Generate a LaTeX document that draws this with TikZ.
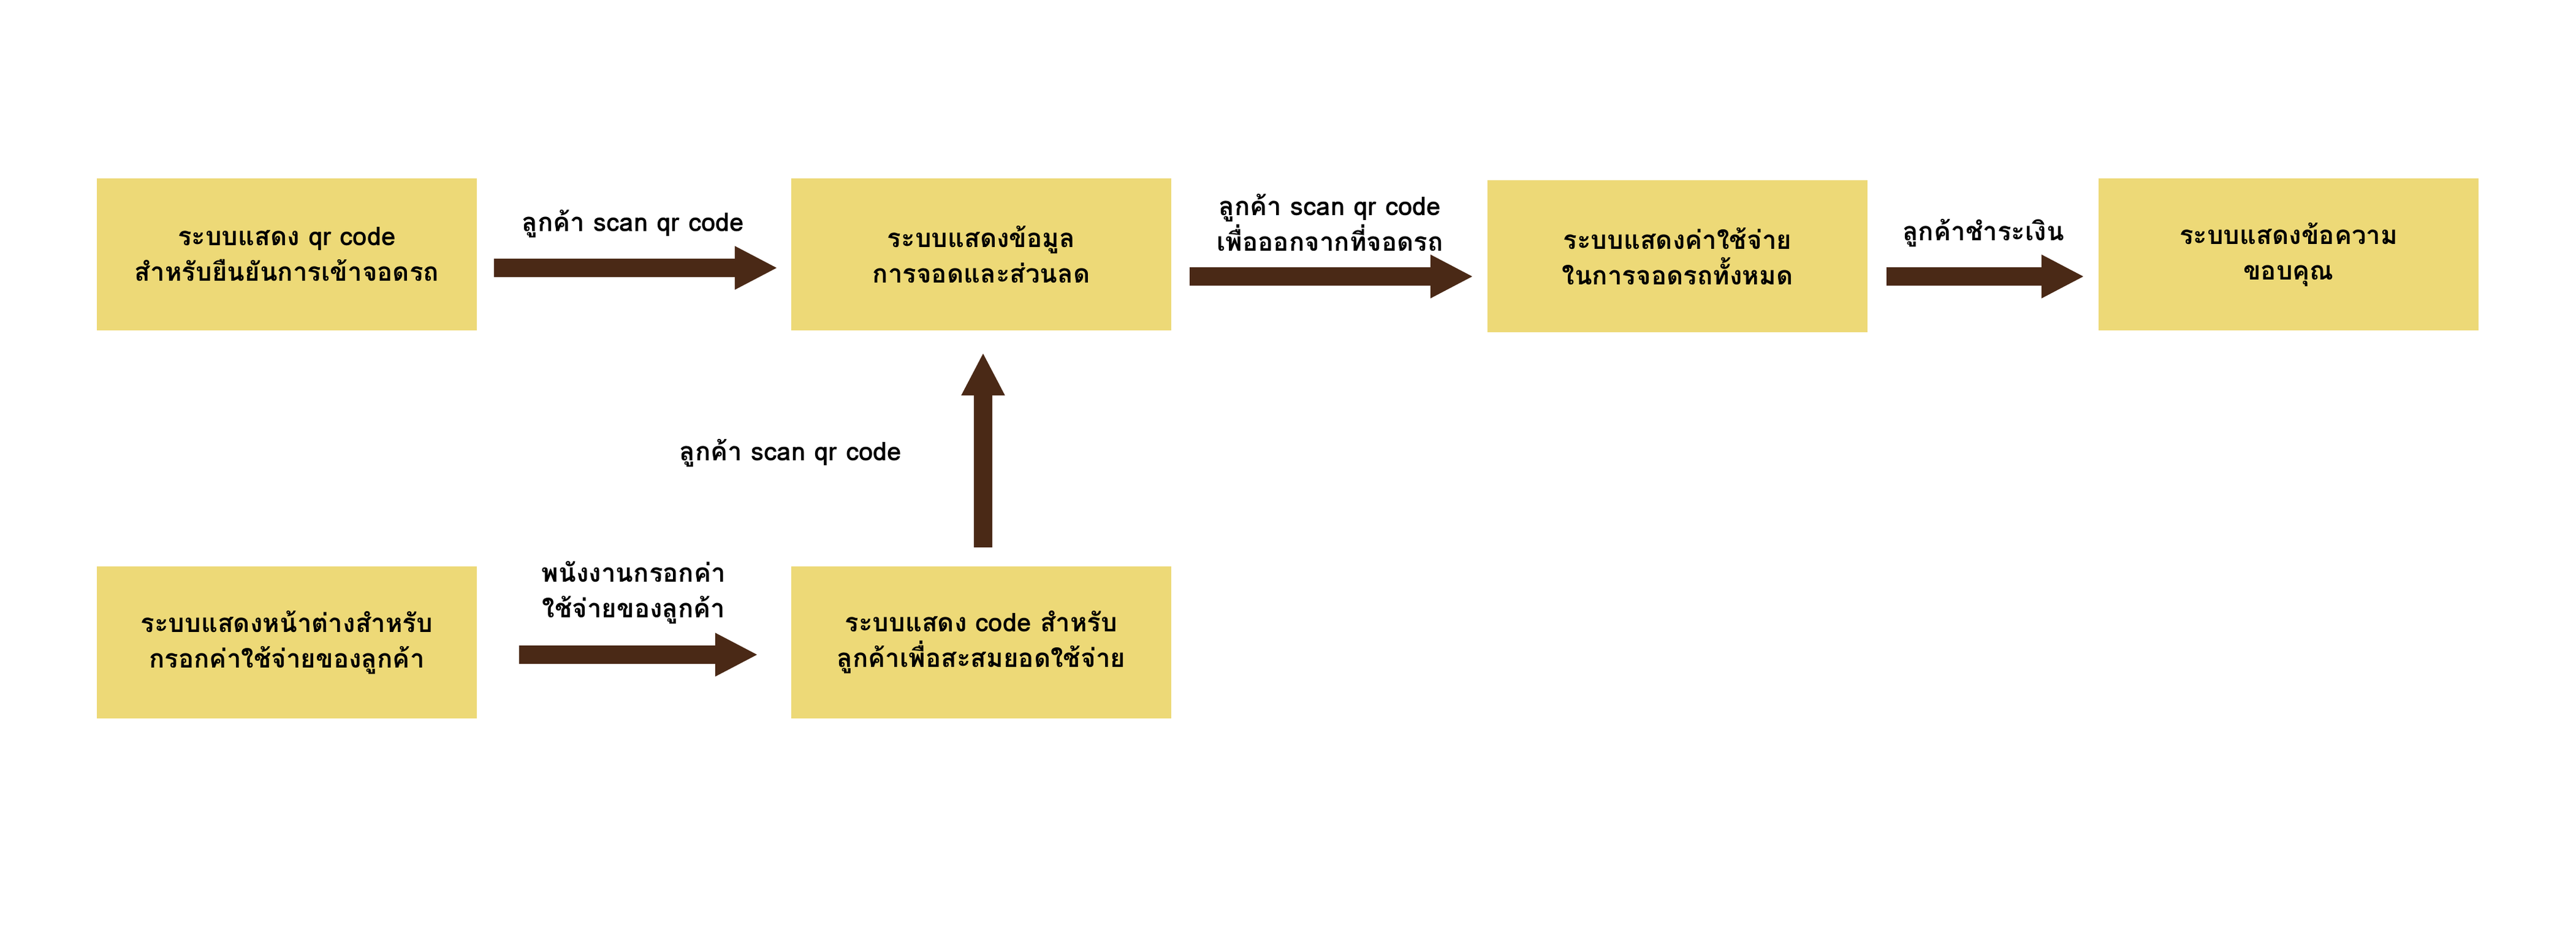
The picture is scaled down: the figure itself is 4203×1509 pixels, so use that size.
\documentclass[tikz,border=0pt]{standalone}
\usepackage{fontspec}
\newfontfamily\thaifont[Script=Thai]{Loma}
\usetikzlibrary{arrows.meta}
\definecolor{boxfill}{RGB}{237,217,119}
\definecolor{arrowbrown}{RGB}{74,41,22}
\tikzset{
  stepbox/.style={fill=boxfill, draw=none, minimum width=620pt, minimum height=248pt, align=center, inner sep=0pt,
    font=\thaifont\bfseries\fontsize{42pt}{58pt}\selectfont},
  lbl/.style={align=center, inner sep=0pt, font=\thaifont\bfseries\fontsize{42pt}{58pt}\selectfont},
  bigarrow/.style={draw=arrowbrown, line width=30pt, -{Triangle[width=66pt,length=70pt]}, arrowbrown}
}
\begin{document}
\begin{tikzpicture}[x=1pt,y=-1pt]
\useasboundingbox (0,0) rectangle (4203,1509);
\fill[white] (0,0) rectangle (4203,1509);
% top row
\node[stepbox] (b1) at (468,415) {ระบบแสดง qr code\\สำหรับยืนยันการเข้าจอดรถ};
\node[stepbox] (b2) at (1601,415) {ระบบแสดงข้อมูล\\การจอดและส่วนลด};
\node[stepbox] (b3) at (2737,418) {ระบบแสดงค่าใช้จ่าย\\ในการจอดรถทั้งหมด};
\node[stepbox] (b4) at (3734,415) {ระบบแสดงข้อความ\\ขอบคุณ};
% bottom row
\node[stepbox] (c1) at (468,1048) {ระบบแสดงหน้าต่างสำหรับ\\กรอกค่าใช้จ่ายของลูกค้า};
\node[stepbox] (c2) at (1601,1048) {ระบบแสดง code สำหรับ\\ลูกค้าเพื่อสะสมยอดใช้จ่าย};
% connectors
\draw[bigarrow] ([shift={(28,22)}]b1.east) -- ([shift={(-22,22)}]b2.west);
\draw[bigarrow] ([shift={(30,36)}]b2.east) -- ([shift={(-23,33)}]b3.west);
\draw[bigarrow] ([shift={(31,33)}]b3.east) -- ([shift={(-23,36)}]b4.west);
\draw[bigarrow] ([shift={(69,20)}]c1.east) -- ([shift={(-54,20)}]c2.west);
\draw[bigarrow] ([shift={(3,-31)}]c2.north) -- ([shift={(3,36)}]b2.south);
% labels
\node[lbl] (l1) at (1033,365) {ลูกค้า scan qr code};
\node[lbl] (l2) at (2170,363) {ลูกค้า scan qr code\\เพื่อออกจากที่จอดรถ};
\node[lbl] (l3) at (3236,380) {ลูกค้าชำระเงิน};
\node[lbl] (l4) at (1290,739) {ลูกค้า scan qr code};
\node[lbl] (l5) at (1034,967) {พนังงานกรอกค่า\\ใช้จ่ายของลูกค้า};
\end{tikzpicture}
\end{document}
